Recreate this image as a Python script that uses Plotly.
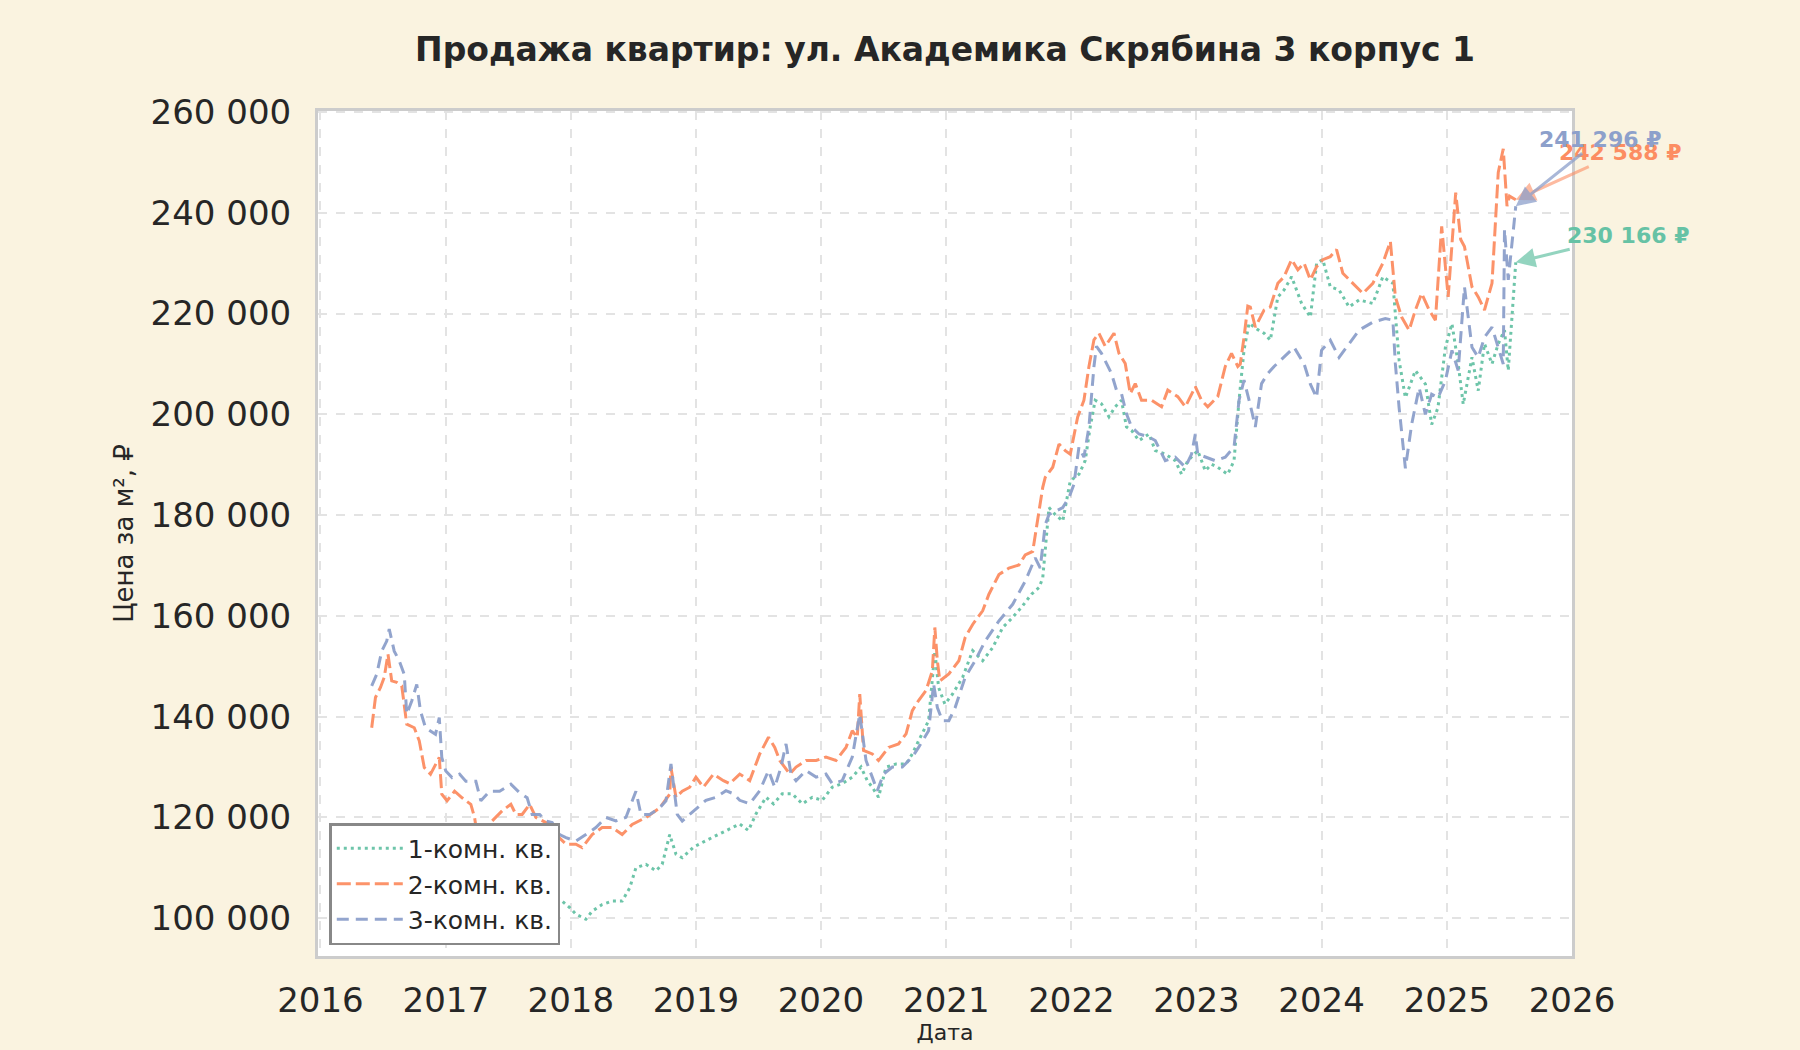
import pandas as pd
import plotly.graph_objects as go

# годы в десятичном виде и цена за м²
anos_1k = [2017.88, 2017.93, 2017.99, 2018.04, 2018.12, 2018.17, 2018.25, 2018.33, 2018.41, 2018.47,
           2018.52, 2018.60, 2018.68, 2018.73, 2018.79, 2018.84, 2018.89, 2018.95, 2018.98, 2019.08,
           2019.19, 2019.30, 2019.35, 2019.42, 2019.48, 2019.56, 2019.62, 2019.69, 2019.77, 2019.85,
           2019.93, 2020.01, 2020.09, 2020.17, 2020.25, 2020.32, 2020.37, 2020.41, 2020.46, 2020.52,
           2020.60, 2020.68, 2020.73, 2020.78, 2020.86, 2020.91, 2020.94, 2020.99, 2021.05, 2021.13,
           2021.21, 2021.29, 2021.37, 2021.45, 2021.53, 2021.60, 2021.68, 2021.74, 2021.77, 2021.82,
           2021.87, 2021.93, 2021.97, 2021.99, 2022.06, 2022.11, 2022.15, 2022.19, 2022.24, 2022.30,
           2022.35, 2022.40, 2022.44, 2022.48, 2022.54, 2022.62, 2022.67, 2022.75, 2022.83, 2022.88,
           2022.93, 2023.01, 2023.07, 2023.12, 2023.17, 2023.25, 2023.30, 2023.34, 2023.38, 2023.42,
           2023.49, 2023.54, 2023.59, 2023.65, 2023.70, 2023.76, 2023.84, 2023.91, 2023.96, 2024.01,
           2024.07, 2024.14, 2024.22, 2024.30, 2024.41, 2024.49, 2024.57, 2024.62, 2024.67, 2024.75,
           2024.83, 2024.88, 2024.93, 2024.99, 2025.04, 2025.09, 2025.13, 2025.20, 2025.25, 2025.30,
           2025.36, 2025.41, 2025.46, 2025.49, 2025.55]
preco_1k = [103500, 103400, 102100, 100800, 99800, 101400, 102700, 103400, 103400, 106000,
            110000, 110700, 109400, 110700, 116600, 112700, 112000, 113300, 114100, 115400,
            116700, 118000, 118700, 117400, 120700, 124000, 122700, 124700, 124700, 122700,
            124000, 123400, 126000, 126700, 128000, 130000, 127300, 126000, 124000, 130000,
            130600, 130600, 132600, 135200, 139200, 153000, 145800, 142500, 144500, 147800,
            153100, 151100, 153700, 157700, 159700, 161700, 164300, 165600, 167500, 181500,
            180100, 178800, 184100, 186800, 188100, 190800, 197500, 202800, 202100, 199500,
            201500, 202800, 197500, 196800, 194800, 196100, 192800, 192100, 190800, 188100,
            190800, 192800, 188800, 190100, 189500, 188100, 190800, 202800, 212800, 218100,
            216800, 216100, 214700, 223300, 224700, 227300, 222000, 219300, 230000, 230700,
            225300, 224700, 221300, 222700, 222000, 227300, 226000, 210700, 203300, 208700,
            206000, 198000, 201300, 213300, 218000, 210000, 202000, 211300, 204700, 214000,
            210000, 214000, 216700, 208700, 230166]

anos_2k = [2016.41, 2016.44, 2016.48, 2016.51, 2016.54, 2016.57, 2016.61, 2016.65, 2016.69, 2016.75,
           2016.79, 2016.83, 2016.88, 2016.92, 2016.95, 2016.97, 2017.01, 2017.07, 2017.13, 2017.20,
           2017.23, 2017.25, 2017.32, 2017.37, 2017.45, 2017.52, 2017.56, 2017.61, 2017.67, 2017.72,
           2017.77, 2017.83, 2017.88, 2017.96, 2018.04, 2018.09, 2018.17, 2018.25, 2018.33, 2018.41,
           2018.49, 2018.60, 2018.71, 2018.79, 2018.80, 2018.84, 2018.89, 2018.95, 2019.00, 2019.06,
           2019.14, 2019.22, 2019.27, 2019.35, 2019.43, 2019.51, 2019.58, 2019.63, 2019.67, 2019.75,
           2019.80, 2019.88, 2019.96, 2020.04, 2020.12, 2020.20, 2020.25, 2020.29, 2020.31, 2020.34,
           2020.41, 2020.46, 2020.54, 2020.62, 2020.68, 2020.73, 2020.78, 2020.84, 2020.89, 2020.91,
           2020.93, 2020.95, 2021.02, 2021.10, 2021.15, 2021.21, 2021.29, 2021.34, 2021.42, 2021.50,
           2021.58, 2021.63, 2021.69, 2021.73, 2021.77, 2021.79, 2021.85, 2021.90, 2021.95, 2021.99,
           2022.05, 2022.10, 2022.14, 2022.18, 2022.22, 2022.27, 2022.34, 2022.38, 2022.43, 2022.47,
           2022.51, 2022.56, 2022.64, 2022.72, 2022.77, 2022.85, 2022.91, 2022.99, 2023.04, 2023.09,
           2023.17, 2023.23, 2023.28, 2023.33, 2023.35, 2023.38, 2023.41, 2023.43, 2023.47, 2023.54,
           2023.59, 2023.65, 2023.70, 2023.76, 2023.81, 2023.86, 2023.91, 2023.96, 2024.01, 2024.07,
           2024.12, 2024.17, 2024.25, 2024.33, 2024.41, 2024.49, 2024.55, 2024.59, 2024.64, 2024.70,
           2024.75, 2024.80, 2024.86, 2024.91, 2024.96, 2025.01, 2025.07, 2025.11, 2025.14, 2025.20,
           2025.25, 2025.30, 2025.36, 2025.41, 2025.45, 2025.48, 2025.50, 2025.55]
preco_2k = [137800, 143800, 145800, 147800, 152400, 147100, 146800, 146100, 138500, 137800,
            135200, 129900, 128600, 130600, 131900, 124600, 123300, 125200, 123900, 122600,
            120000, 116600, 117300, 119300, 121300, 122600, 120600, 120600, 122600, 120000,
            119300, 118600, 116600, 114700, 114700, 114000, 116600, 118000, 118000, 116600,
            118600, 120000, 121900, 124600, 129900, 124000, 125200, 126000, 128000, 126000,
            128600, 127300, 126700, 128600, 127300, 132600, 135900, 133900, 131300, 128600,
            130000, 131300, 131300, 132000, 131300, 133900, 137200, 135900, 144500, 133300,
            132600, 131300, 133900, 134600, 136600, 141200, 143200, 145200, 149100, 157700,
            151100, 147100, 148500, 151100, 155700, 158300, 161000, 164300, 168200, 169500,
            170100, 172100, 172800, 179500, 185500, 187500, 189500, 194100, 192800, 192100,
            199500, 202800, 209500, 214800, 216100, 213500, 216100, 212100, 210100, 204100,
            206100, 202800, 202800, 201500, 204800, 203500, 201500, 205500, 202800, 201500,
            203500, 209500, 212100, 209500, 210000, 215300, 221500, 221300, 217300, 220700,
            221300, 226000, 227300, 230700, 228700, 230000, 226700, 229300, 230700, 231300,
            232700, 228000, 226000, 224000, 226000, 230000, 234300, 223300, 219300, 216700,
            220700, 224000, 220700, 218700, 237300, 223300, 244000, 234700, 233300, 225300,
            223300, 220700, 226000, 248000, 252700, 241300, 243300, 242588]

anos_3k = [2016.41, 2016.45, 2016.49, 2016.53, 2016.55, 2016.59, 2016.63, 2016.67, 2016.69, 2016.73,
           2016.77, 2016.80, 2016.84, 2016.88, 2016.92, 2016.95, 2016.97, 2017.00, 2017.05, 2017.11,
           2017.16, 2017.24, 2017.28, 2017.35, 2017.43, 2017.52, 2017.59, 2017.65, 2017.69, 2017.75,
           2017.80, 2017.85, 2017.91, 2017.96, 2018.04, 2018.12, 2018.20, 2018.28, 2018.36, 2018.44,
           2018.52, 2018.56, 2018.63, 2018.71, 2018.76, 2018.80, 2018.85, 2018.89, 2018.95, 2018.98,
           2019.08, 2019.16, 2019.24, 2019.30, 2019.35, 2019.43, 2019.51, 2019.58, 2019.63, 2019.68,
           2019.72, 2019.76, 2019.80, 2019.88, 2019.96, 2020.04, 2020.09, 2020.17, 2020.25, 2020.31,
           2020.36, 2020.41, 2020.45, 2020.50, 2020.57, 2020.65, 2020.73, 2020.78, 2020.86, 2020.90,
           2020.93, 2020.97, 2021.02, 2021.07, 2021.15, 2021.23, 2021.31, 2021.42, 2021.53, 2021.63,
           2021.71, 2021.75, 2021.79, 2021.82, 2021.87, 2021.93, 2021.98, 2022.02, 2022.06, 2022.10,
           2022.14, 2022.18, 2022.20, 2022.24, 2022.28, 2022.32, 2022.36, 2022.40, 2022.44, 2022.48,
           2022.54, 2022.62, 2022.67, 2022.75, 2022.83, 2022.91, 2022.96, 2022.99, 2023.01, 2023.07,
           2023.15, 2023.23, 2023.30, 2023.34, 2023.38, 2023.44, 2023.47, 2023.52, 2023.57, 2023.62,
           2023.67, 2023.73, 2023.78, 2023.86, 2023.91, 2023.96, 2024.00, 2024.07, 2024.14, 2024.22,
           2024.30, 2024.41, 2024.51, 2024.57, 2024.59, 2024.62, 2024.67, 2024.72, 2024.78, 2024.83,
           2024.88, 2024.93, 2024.99, 2025.04, 2025.09, 2025.14, 2025.20, 2025.25, 2025.30, 2025.36,
           2025.41, 2025.45, 2025.46, 2025.49, 2025.55]
preco_3k = [146100, 148400, 153000, 155000, 157400, 153000, 151100, 148400, 140500, 143100,
            146400, 141100, 137800, 137200, 136500, 139800, 131900, 129200, 127900, 128600,
            127200, 127200, 123300, 125200, 125200, 126600, 124900, 123900, 120600, 120600,
            119300, 119000, 116600, 116000, 115300, 116600, 118000, 120000, 119300, 120000,
            125200, 120600, 120600, 121900, 123300, 130600, 120600, 119300, 120600, 121400,
            123400, 124000, 125300, 124700, 123400, 122700, 125300, 129300, 126000, 130000,
            134600, 128600, 127300, 129300, 128000, 128600, 126700, 127300, 132000, 140500,
            131300, 128000, 125300, 128600, 130000, 130000, 132000, 133900, 137200, 146500,
            141800, 139200, 139200, 141800, 147800, 151100, 155000, 159000, 162300, 166900,
            171500, 169500, 178100, 180100, 180800, 181500, 183500, 186100, 193500, 191500,
            197500, 209500, 213500, 212100, 210100, 208100, 204800, 204100, 200100, 197500,
            196100, 195500, 194800, 190800, 191500, 189500, 192100, 196100, 192100, 191500,
            190800, 191500, 193500, 202800, 206800, 200800, 197500, 206100, 208100, 209500,
            210700, 212000, 213300, 210000, 206000, 203300, 212700, 214700, 211300, 214000,
            216700, 218300, 219000, 218700, 210000, 201300, 189300, 198000, 205300, 200000,
            204000, 203300, 206700, 212700, 208700, 225300, 213300, 211300, 215300, 217300,
            213300, 210000, 236700, 226700, 241296]

series = ['1-комн. кв.', '2-комн. кв.', '3-комн. кв.']
cores = ['#66c2a5', '#fc8d62', '#8da0cb']
setas = ['rgba(102,194,165,0.7)', 'rgba(252,141,98,0.6)', 'rgba(141,160,203,0.75)']
tracos = ['3px,4px', '14px,5px', '12px,7px']
anos_ticks = list(range(2016, 2027))


def para_data(anos):
    # ano decimal -> data
    return [pd.Timestamp(f"{int(a)}-01-01") + pd.Timedelta(days=(a % 1) * 365.25) for a in anos]


dados = [(anos_1k, preco_1k), (anos_2k, preco_2k), (anos_3k, preco_3k)]

fig = go.Figure()
for nome, (anos, precos), cor, traco in zip(series, dados, cores, tracos):
    fig.add_trace(go.Scatter(x=para_data(anos), y=precos, mode='lines', name=nome,
                             line=dict(color=cor, width=3, dash=traco), opacity=0.95))

# подписи последних значений со стрелками
deslocamentos = [(112, -27), (104, -47), (84, -67)]
for (anos, precos), cor, seta, (ax, ay) in zip(dados, cores, setas, deslocamentos):
    ultimo = precos[-1]
    texto = f"{ultimo:,}".replace(',', ' ') + ' ₽'
    fig.add_annotation(x=para_data(anos)[-1], y=ultimo, text=f"<b>{texto}</b>",
                       ax=ax, ay=ay, showarrow=True, arrowhead=2, arrowsize=1.3,
                       arrowwidth=3, arrowcolor=seta,
                       font=dict(color=cor, size=22, family='DejaVu Sans'))

fig.update_layout(
    width=1800, height=1050,
    paper_bgcolor='#faf3e0', plot_bgcolor='white',
    font=dict(family='DejaVu Sans', color='#262626'),
    separators='. ',
    title=dict(text='<b>Продажа квартир: ул. Академика Скрябина 3 корпус 1</b>',
               x=(318 + 1572) / 2 / 1800, xanchor='center', y=1 - 49 / 1050, yanchor='middle',
               font=dict(size=33, color='#262626')),
    margin=dict(l=318, r=228, t=111, b=94),
    showlegend=True,
    legend=dict(x=0.009, y=0.013, xanchor='left', yanchor='bottom',
                bgcolor='white', bordercolor='#888888', borderwidth=2.5,
                font=dict(size=25, color='#262626'), tracegroupgap=0, itemwidth=66),
)

fig.update_xaxes(
    range=['2015-12-25', '2026-01-01'],
    tickvals=[pd.Timestamp(f"{a}-01-01") for a in anos_ticks],
    ticktext=[str(a) for a in anos_ticks],
    tickfont=dict(size=34, color='#262626'),
    showgrid=True, gridcolor='#e3e3e3', gridwidth=1.5, griddash='dash',
    showline=True, linecolor='#cccccc', linewidth=3, mirror=True,
    ticks='outside', ticklen=12, tickcolor='rgba(0,0,0,0)',
    title=dict(text='Дата', font=dict(size=22, color='#262626'), standoff=4),
    zeroline=False,
)
fig.update_yaxes(
    range=[92500, 260200], dtick=20000, tick0=0, tickformat=',d',
    tickfont=dict(size=34, color='#262626'),
    showgrid=True, gridcolor='#e3e3e3', gridwidth=1.5, griddash='dash',
    showline=True, linecolor='#cccccc', linewidth=3, mirror=True,
    ticks='outside', ticklen=17, tickcolor='rgba(0,0,0,0)',
    title=dict(text='Цена за м², ₽', font=dict(size=26, color='#262626'), standoff=10),
    zeroline=False,
)

# убрать отступ страницы, чтобы фон занимал всё окно
fig.write_html("out.html", config={'displayModeBar': False},
               post_script="document.body.style.margin='0';")
